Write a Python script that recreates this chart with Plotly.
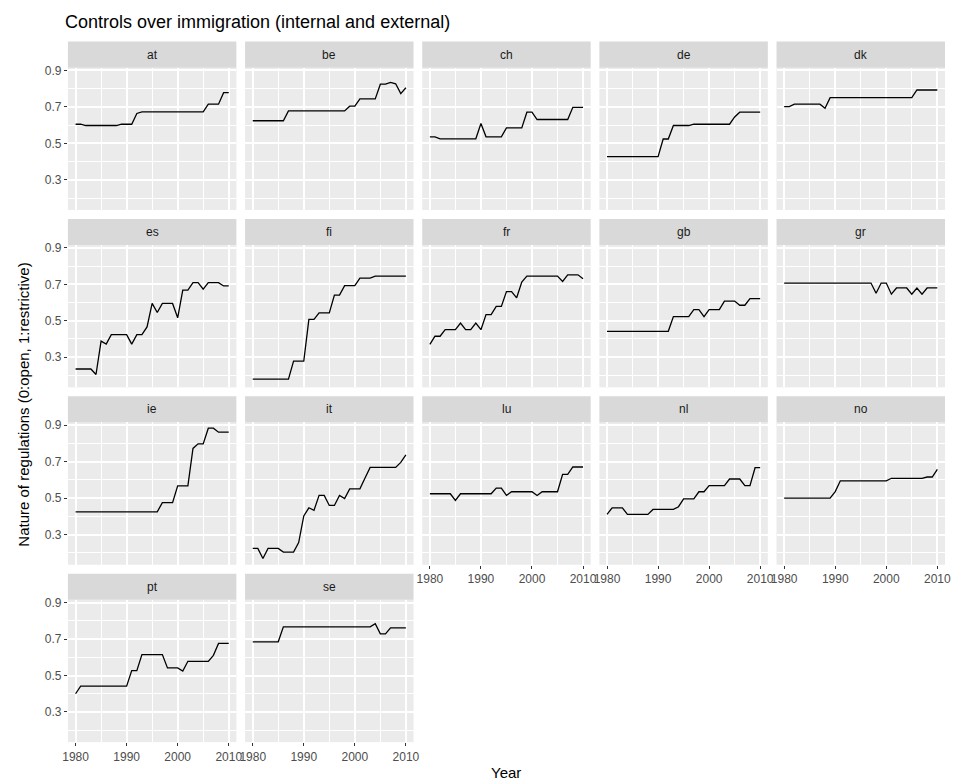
import plotly.graph_objects as go

years = list(range(1980, 2011))

countries = ["at", "be", "ch", "de", "dk", "es", "fi", "fr", "gb", "gr",
             "ie", "it", "lu", "nl", "no", "pt", "se"]

at = [0.605, 0.605, 0.598, 0.598, 0.598, 0.598, 0.598, 0.598, 0.598, 0.605, 0.605, 0.605,
      0.664] + [0.673] * 13 + [0.715] * 3 + [0.778] * 2
be = [0.624] * 7 + [0.678] * 12 + [0.704] * 2 + [0.744] * 4 + [0.825, 0.825, 0.835, 0.827, 0.773, 0.805]
ch = [0.536, 0.536] + [0.525] * 8 + [0.609] + [0.536] * 4 + [0.585] * 4 + [0.671] * 2 + [0.631] * 7 + [0.698] * 3
de = [0.427] * 11 + [0.524] * 2 + [0.598] * 4 + [0.605] * 8 + [0.645] + [0.671] * 5
dk = [0.702] * 2 + [0.715] * 6 + [0.693] + [0.751] * 17 + [0.793] * 5
es = [0.235] * 4 + [0.205, 0.388, 0.372] + [0.424] * 4 + [0.372, 0.424, 0.424, 0.466, 0.595, 0.545] + \
     [0.595] * 3 + [0.516, 0.668, 0.668, 0.709, 0.709, 0.673, 0.709, 0.709, 0.709, 0.691, 0.691]
fi = [0.179] * 8 + [0.278] * 3 + [0.507] * 2 + [0.543] * 3 + [0.641] * 2 + [0.693] * 3 + [0.734] * 3 + [0.745] * 7
fr = [0.370, 0.415, 0.415, 0.451, 0.451, 0.451, 0.487, 0.451, 0.451, 0.487, 0.451, 0.534, 0.534,
      0.579, 0.579, 0.660, 0.660, 0.626, 0.713] + [0.745] * 7 + [0.716, 0.752, 0.752, 0.752, 0.731]
gb = [0.442] * 13 + [0.523] * 4 + [0.561] * 2 + [0.523] + [0.561] * 3 + [0.608] * 3 + [0.585] * 2 + [0.621] * 3
gr = [0.707] * 18 + [0.651, 0.707, 0.707, 0.646, 0.680, 0.680, 0.680, 0.646, 0.680, 0.646, 0.680, 0.680, 0.680]
ie = [0.425] * 17 + [0.475] * 3 + [0.567] * 3 + [0.773, 0.798, 0.798, 0.884, 0.884, 0.862, 0.862, 0.862]
it = [0.224, 0.224, 0.169, 0.224, 0.224, 0.224, 0.204, 0.204, 0.204, 0.256, 0.402, 0.447, 0.433,
      0.515, 0.515, 0.460, 0.460, 0.515, 0.498, 0.551, 0.551, 0.551, 0.611] + [0.669] * 6 + [0.696, 0.738]
lu = [0.524] * 5 + [0.487] + [0.524] * 7 + [0.555] * 2 + [0.515] + [0.535] * 5 + [0.515] + [0.535] * 4 + \
     [0.631] * 2 + [0.671] * 3
nl = [0.411] + [0.447] * 3 + [0.411] * 5 + [0.438] * 5 + [0.453] + [0.496] * 3 + [0.535] * 2 + \
     [0.569] * 4 + [0.605] * 3 + [0.569] * 2 + [0.667] * 2
no = [0.500] * 10 + [0.536] + [0.595] * 10 + [0.609] * 7 + [0.616] * 2 + [0.658]
pt = [0.400] + [0.442] * 10 + [0.527] * 2 + [0.615] * 5 + [0.542] * 3 + [0.524] + [0.578] * 5 + [0.611] + [0.676] * 3
se = [0.685] * 6 + [0.767] * 18 + [0.784] + [0.729] * 2 + [0.762] * 4

series = [at, be, ch, de, dk, es, fi, fr, gb, gr, ie, it, lu, nl, no, pt, se]

title_text = "Controls over immigration (internal and external)"
x_title = "Year"
y_title = "Nature of regulations (0:open, 1:restrictive)"
x_ticks = [1980, 1990, 2000, 2010]
y_ticks = [0.3, 0.5, 0.7, 0.9]

W, H = 958, 783
ncol = 5
n = len(countries)
left0, pitch_x, pw = 62.7, 179.4, 170.6
top0, pitch_y, strip_h, ph = 37.7, 178.3, 26.3, 143.0

FONT = "Liberation Sans, Arial, sans-serif"
fig = go.Figure()
shapes = []
annotations = []

for i, (name, vals) in enumerate(zip(countries, series)):
    r, c = divmod(i, ncol)
    k = "" if i == 0 else str(i + 1)
    x0 = left0 + c * pitch_x
    x1 = x0 + pw
    st = top0 + r * pitch_y
    pt_top = st + strip_h
    pt_bot = pt_top + ph
    dom_x = [x0 / W, x1 / W]
    dom_y = [1 - pt_bot / H, 1 - pt_top / H]
    show_x = i + ncol >= n
    show_y = c == 0
    fig.add_trace(go.Scatter(x=years, y=vals, mode="lines",
                             line=dict(color="black", width=1.3),
                             xaxis="x" + k, yaxis="y" + k, showlegend=False,
                             hoverinfo="skip"))
    xa = dict(domain=dom_x, range=[1978.5, 2011.5], anchor="y" + k,
              tickvals=x_ticks, showticklabels=show_x,
              ticks="outside" if show_x else "", ticklen=3, tickwidth=1, tickcolor="#333333",
              showgrid=True, gridcolor="white", gridwidth=1.6, zeroline=False, showline=False,
              minor=dict(tickvals=[1985, 1995, 2005], showgrid=True, gridcolor="white",
                         gridwidth=0.8, ticks=""),
              tickfont=dict(family=FONT, size=12, color="#4D4D4D"), fixedrange=True)
    ya = dict(domain=dom_y, range=[0.1345, 0.9155], anchor="x" + k,
              tickvals=y_ticks, ticktext=[f"{v:.1f}" for v in y_ticks], showticklabels=show_y,
              ticks="outside" if show_y else "", ticklen=3, tickwidth=1, tickcolor="#333333",
              showgrid=True, gridcolor="white", gridwidth=1.6, zeroline=False, showline=False,
              minor=dict(tickvals=[0.2, 0.4, 0.6, 0.8], showgrid=True, gridcolor="white",
                         gridwidth=0.8, ticks=""),
              tickfont=dict(family=FONT, size=12, color="#4D4D4D"), fixedrange=True)
    fig.layout["xaxis" + k] = xa
    fig.layout["yaxis" + k] = ya
    shapes.append(dict(type="rect", xref="paper", yref="paper",
                       x0=x0 / W, x1=x1 / W, y0=1 - pt_top / H, y1=1 - st / H,
                       fillcolor="#D9D9D9", line=dict(width=0), layer="below"))
    annotations.append(dict(text=name, xref="paper", yref="paper",
                            x=(x0 + x1) / 2 / W, y=1 - (st + strip_h / 2) / H,
                            xanchor="center", yanchor="middle", showarrow=False,
                            font=dict(family=FONT, size=12, color="#1A1A1A")))

annotations.append(dict(text=title_text, xref="paper", yref="paper", x=58 / W, y=1 - 18 / H,
                        xanchor="left", yanchor="middle", showarrow=False,
                        font=dict(family=FONT, size=18, color="black")))
annotations.append(dict(text=x_title, xref="paper", yref="paper", x=(left0 + 4 * pitch_x + pw + left0) / 2 / W,
                        y=1 - 772 / H, xanchor="center", yanchor="middle", showarrow=False,
                        font=dict(family=FONT, size=15, color="black")))
annotations.append(dict(text=y_title, xref="paper", yref="paper", x=18 / W,
                        y=1 - ((top0 + strip_h) + (top0 + 3 * pitch_y + strip_h + ph)) / 2 / H,
                        xanchor="center", yanchor="middle", textangle=-90, showarrow=False,
                        font=dict(family=FONT, size=15, color="black")))

fig.update_layout(width=W, height=H, margin=dict(l=0, r=0, t=0, b=0),
                  paper_bgcolor="white", plot_bgcolor="#EBEBEB",
                  shapes=shapes, annotations=annotations, showlegend=False)

fig.write_html("out.html", config={"displayModeBar": False})
